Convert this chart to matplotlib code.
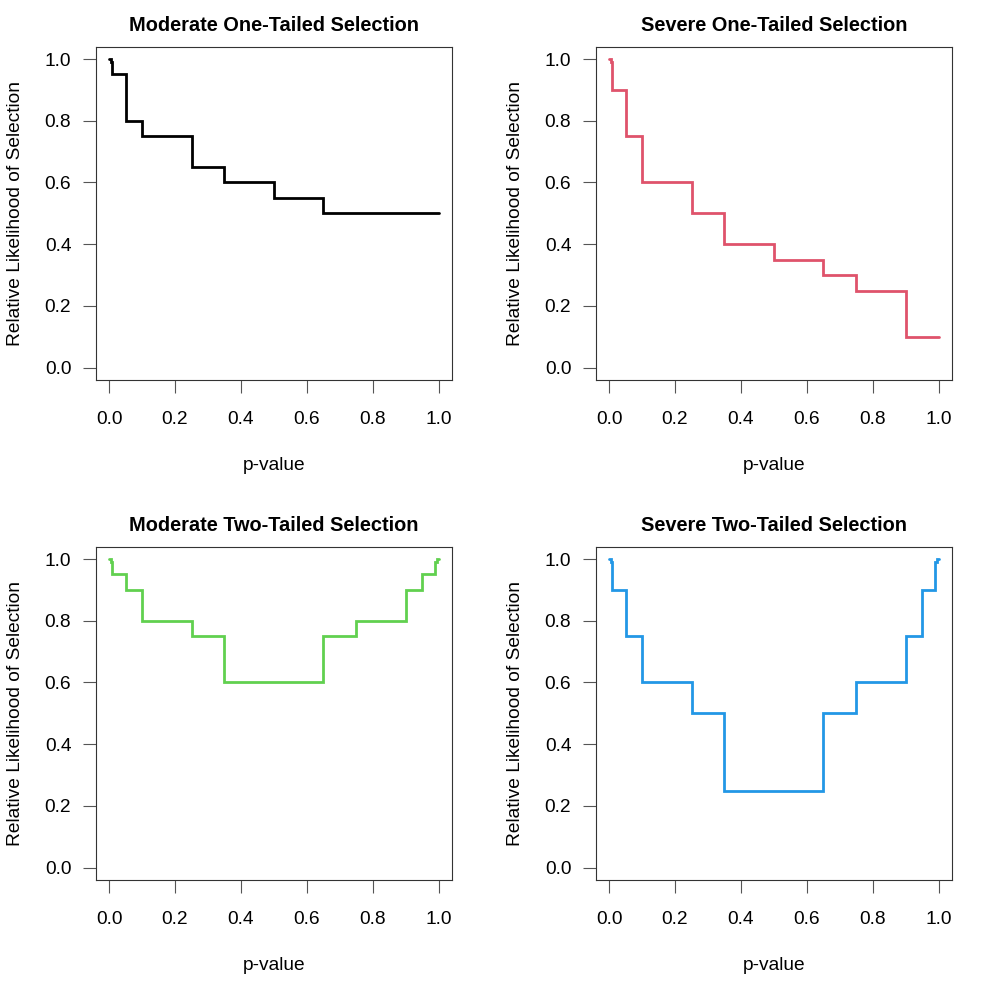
import matplotlib
matplotlib.use("Agg")
import matplotlib.pyplot as plt
import numpy as np

plt.rcParams['font.family'] = ['Liberation Sans', 'DejaVu Sans']

cutpoints = [0, .005, .01, .05, .10, .25, .35, .50, .65, .75, .90, .95, .99, .995, 1]
mod_one = [1, .99, .95, .80, .75, .65, .60, .55, .50, .50, .50, .50, .50, .50]
sev_one = [1, .99, .90, .75, .60, .50, .40, .35, .30, .25, .10, .10, .10, .10]
mod_two = [1, .99, .95, .90, .80, .75, .60, .60, .75, .80, .90, .95, .99, 1]
sev_two = [1, .99, .90, .75, .60, .50, .25, .25, .50, .60, .75, .90, .99, 1]

titles = ["Moderate One-Tailed Selection", "Severe One-Tailed Selection",
          "Moderate Two-Tailed Selection", "Severe Two-Tailed Selection"]
series = [mod_one, sev_one, mod_two, sev_two]
colors = ["#000000", "#DF536B", "#61D04F", "#2297E6"]
ticks = [0.0, 0.2, 0.4, 0.6, 0.8, 1.0]
tick_labels = ["0.0", "0.2", "0.4", "0.6", "0.8", "1.0"]

fig = plt.figure(figsize=(10, 10), dpi=100)
W = 0.3557
H = 0.3333
positions = [(0.096, 0.620), (0.596, 0.620), (0.096, 0.120), (0.596, 0.120)]

for (l, b), title, vals, col in zip(positions, titles, series, colors):
    ax = fig.add_axes([l, b, W, H])
    xs = np.array(cutpoints)
    ys = np.array(list(vals) + [vals[-1]])
    ax.step(xs, ys, where='post', color=col, lw=2.0, solid_capstyle='round',
            solid_joinstyle='miter')
    ax.set_xlim(-0.04, 1.04)
    ax.set_ylim(-0.04, 1.04)
    ax.set_xticks(ticks)
    ax.set_xticklabels(tick_labels)
    ax.set_yticks(ticks)
    ax.set_yticklabels(tick_labels)
    ax.tick_params(direction='out', length=9.2, width=0.8, color='#555555',
                   labelsize=13.8, pad=8.6)
    ax.tick_params(axis='x', pad=13)
    for s in ax.spines.values():
        s.set_linewidth(0.8)
        s.set_color('#333333')
    ax.set_title(title, fontsize=14.4, fontweight='bold', pad=11)
    ax.set_xlabel("p-value", fontsize=13.8, labelpad=21)
    ax.set_ylabel("Relative Likelihood of Selection", fontsize=13.8, labelpad=15)

fig.savefig("out.png", dpi=100)
